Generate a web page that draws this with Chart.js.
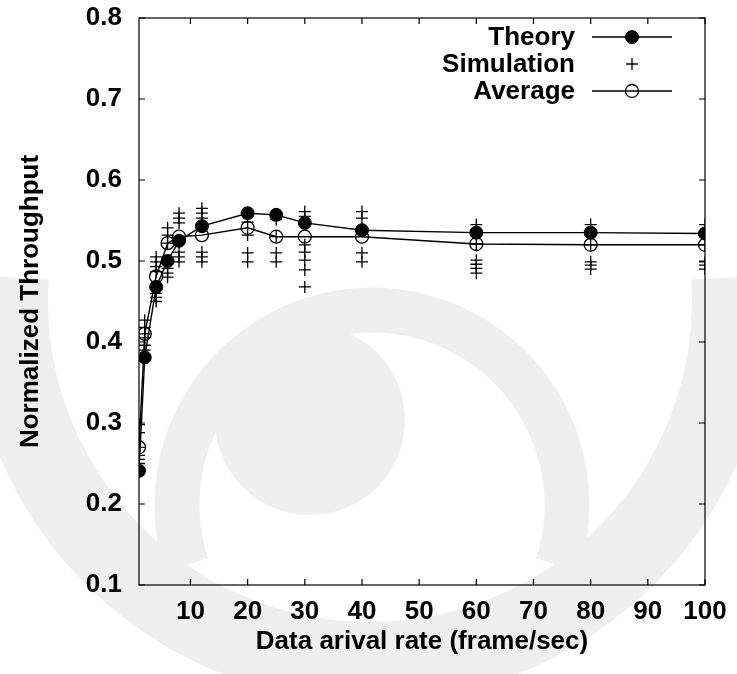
<!DOCTYPE html>
<html><head><meta charset="utf-8">
<script src="https://cdn.jsdelivr.net/npm/chart.js@4/dist/chart.umd.min.js"></script>
<style>html,body{margin:0;padding:0;background:#fff}#wrap{width:737px;height:674px;position:relative}canvas{display:block}</style>
</head><body><div id="wrap"><canvas id="c" width="737" height="674" style="width:737px;height:674px"></canvas></div>
<script>
const rates = [1, 2, 4, 6, 8, 12, 20, 25, 30, 40, 60, 80, 100];
const theory = [0.241, 0.381, 0.468, 0.500, 0.525, 0.543, 0.559, 0.557, 0.547, 0.538, 0.535, 0.535, 0.534];
const average = [0.270, 0.410, 0.481, 0.522, 0.530, 0.532, 0.541, 0.530, 0.530, 0.530, 0.521, 0.520, 0.520];
const simulation = [
  [0.298, 0.288, 0.270, 0.260, 0.255, 0.250],
  [0.427, 0.418, 0.410, 0.405, 0.396, 0.390],
  [0.505, 0.499, 0.493, 0.487, 0.460, 0.455, 0.450],
  [0.541, 0.532, 0.522, 0.491, 0.485, 0.480],
  [0.559, 0.553, 0.547, 0.511, 0.505, 0.499],
  [0.565, 0.559, 0.553, 0.511, 0.505, 0.499],
  [0.559, 0.548, 0.532, 0.510, 0.499],
  [0.558, 0.551, 0.530, 0.510, 0.499],
  [0.561, 0.555, 0.547, 0.520, 0.511, 0.501, 0.489, 0.468],
  [0.561, 0.553, 0.538, 0.510, 0.499],
  [0.545, 0.521, 0.501, 0.496, 0.491, 0.485],
  [0.545, 0.520, 0.499, 0.495, 0.490],
  [0.545, 0.520, 0.499, 0.495, 0.490]
];
const xTicks = [10, 20, 30, 40, 50, 60, 70, 80, 90, 100];
const yTicks = [0.1, 0.2, 0.3, 0.4, 0.5, 0.6, 0.7, 0.8];
const seriesNames = ['Theory', 'Simulation', 'Average'];

const FAMILY = '"Liberation Sans", Arial, sans-serif';
const FONT = {family: FAMILY, weight: 'bold', size: 26};

const simPoints = [];
rates.forEach((r, i) => simulation[i].forEach(v => simPoints.push({x: r, y: v})));

const watermark = {
  id: 'watermark',
  beforeDraw(chart) {
    const ctx = chart.ctx;
    ctx.save();
    ctx.fillStyle = '#fff';
    ctx.fillRect(0, 0, chart.width, chart.height);
    ctx.fillStyle = '#efefef';
    ctx.strokeStyle = '#efefef';
    ctx.beginPath();
    ctx.arc(310, 420, 95, 0, Math.PI * 2);
    ctx.fill();
    ctx.lineWidth = 45;
    ctx.beginPath();
    ctx.arc(372, 505, 195, Math.PI * 0.9, Math.PI * 2.1);
    ctx.stroke();
    ctx.lineWidth = 80;
    ctx.beginPath();
    ctx.arc(370, 300, 362, -Math.PI * 0.02, Math.PI * 1.02);
    ctx.stroke();
    ctx.restore();
  }
};

const frame = {
  id: 'frame',
  afterDatasetsDraw(chart) {
    const {ctx, chartArea: a, scales: {x, y}} = chart;
    ctx.save();
    ctx.strokeStyle = '#000';
    ctx.lineWidth = 1.2;
    ctx.strokeRect(a.left, a.top, a.right - a.left, a.bottom - a.top);
    const tl = 6;
    ctx.beginPath();
    xTicks.forEach(v => {
      const px = x.getPixelForValue(v);
      ctx.moveTo(px, a.bottom); ctx.lineTo(px, a.bottom - tl);
      ctx.moveTo(px, a.top); ctx.lineTo(px, a.top + tl);
    });
    yTicks.forEach(v => {
      const py = y.getPixelForValue(v);
      ctx.moveTo(a.left, py); ctx.lineTo(a.left + tl, py);
      ctx.moveTo(a.right, py); ctx.lineTo(a.right - tl, py);
    });
    ctx.stroke();
    ctx.restore();
  },
  afterDraw(chart) {
    const ctx = chart.ctx;
    ctx.save();
    ctx.font = 'bold 26px ' + FAMILY;
    ctx.textAlign = 'right';
    ctx.textBaseline = 'middle';
    const textRight = 575, x0 = 592, x1 = 672, xm = (x0 + x1) / 2;
    const rows = [37, 64, 91];
    [0, 1, 2].forEach((di, k) => {
      const ds = chart.data.datasets[di];
      const yy = rows[k];
      ctx.fillStyle = '#000';
      ctx.fillText(ds.label, textRight, yy + 1);
      ctx.strokeStyle = '#000';
      ctx.lineWidth = ds.borderWidth;
      if (ds.showLine !== false) {
        ctx.beginPath(); ctx.moveTo(x0, yy); ctx.lineTo(x1, yy); ctx.stroke();
      }
      ctx.lineWidth = ds.pointBorderWidth;
      ctx.fillStyle = ds.pointBackgroundColor;
      Chart.helpers.drawPoint(ctx, {pointStyle: ds.pointStyle, radius: ds.pointRadius, rotation: 0, borderWidth: ds.pointBorderWidth}, xm, yy);
    });
    ctx.restore();
  }
};

new Chart(document.getElementById('c'), {
  type: 'line',
  data: {
    datasets: [
      {
        label: seriesNames[0],
        data: rates.map((r, i) => ({x: r, y: theory[i]})),
        borderColor: '#000', borderWidth: 1.4,
        pointStyle: 'circle', pointRadius: 6.5,
        pointBackgroundColor: '#000', pointBorderColor: '#000', pointBorderWidth: 1,
        tension: 0, order: 3
      },
      {
        label: seriesNames[1],
        data: simPoints,
        showLine: false,
        borderColor: '#000', borderWidth: 1.3,
        pointStyle: 'cross', pointRadius: 6,
        pointBackgroundColor: '#000', pointBorderColor: '#000', pointBorderWidth: 1.3,
        order: 2
      },
      {
        label: seriesNames[2],
        data: rates.map((r, i) => ({x: r, y: average[i]})),
        borderColor: '#000', borderWidth: 1.4,
        pointStyle: 'circle', pointRadius: 6.5,
        pointBackgroundColor: 'rgba(0,0,0,0)', pointBorderColor: '#000', pointBorderWidth: 1.3,
        tension: 0, order: 1
      }
    ]
  },
  options: {
    responsive: false,
    maintainAspectRatio: false,
    animation: false,
    devicePixelRatio: 1,
    layout: {padding: {top: 18, right: 32, bottom: 0, left: 0}},
    plugins: {legend: {display: false}, tooltip: {enabled: false}},
    scales: {
      x: {
        type: 'linear', min: 1, max: 100,
        afterBuildTicks: s => { s.ticks = xTicks.map(v => ({value: v})); },
        afterFit: s => { s.height = 89; s.paddingLeft = 0; s.paddingRight = 0; },
        grid: {display: false, drawTicks: false},
        border: {display: false},
        ticks: {color: '#000', font: FONT, padding: 11, maxRotation: 0, autoSkip: false},
        title: {display: true, text: 'Data arival rate (frame/sec)', color: '#000', font: FONT, padding: {top: 0, bottom: 17}}
      },
      y: {
        type: 'linear', min: 0.1, max: 0.8,
        afterBuildTicks: s => { s.ticks = yTicks.map(v => ({value: v})); },
        afterFit: s => { s.width = 139; s.paddingTop = 0; s.paddingBottom = 0; },
        grid: {display: false, drawTicks: false},
        border: {display: false},
        ticks: {color: '#000', font: FONT, padding: 17, callback: v => v.toFixed(1)},
        title: {display: true, text: 'Normalized Throughput', color: '#000', font: FONT, padding: {top: 15, bottom: 0}}
      }
    }
  },
  plugins: [watermark, frame]
});
</script>
</body></html>
